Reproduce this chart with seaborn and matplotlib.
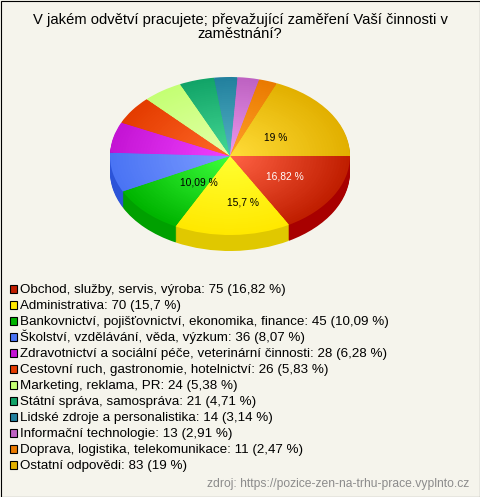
import numpy as np
import matplotlib
matplotlib.use("Agg")
import matplotlib.pyplot as plt
from matplotlib.patches import Rectangle
import seaborn as sns

W, H = 480, 497
BG = "#F5F4EC"

title = "V jakém odvětví pracujete; převažující zaměření Vaší činnosti v\nzaměstnání?"
source = "zdroj: https://pozice-zen-na-trhu-prace.vyplnto.cz"

categories = [
    "Obchod, služby, servis, výroba",
    "Administrativa",
    "Bankovnictví, pojišťovnictví, ekonomika, finance",
    "Školství, vzdělávání, věda, výzkum",
    "Zdravotnictví a sociální péče, veterinární činnosti",
    "Cestovní ruch, gastronomie, hotelnictví",
    "Marketing, reklama, PR",
    "Státní správa, samospráva",
    "Lidské zdroje a personalistika",
    "Informační technologie",
    "Doprava, logistika, telekomunikace",
    "Ostatní odpovědi",
]
counts = [75, 70, 45, 36, 28, 26, 24, 21, 14, 13, 11, 83]
percents = ["16,82", "15,7", "10,09", "8,07", "6,28", "5,83", "5,38", "4,71", "3,14", "2,91", "2,47", "19"]

# colours: rim of the top face, middle of the top face, side wall
rim = ["#C01E00", "#FFE800", "#00B400", "#4A74F4", "#C414D4", "#E43C00",
       "#C4FF74", "#12A468", "#22809E", "#BE62C2", "#EA7A00", "#E2B000"]
centre = ["#FF6244", "#FFFF30", "#3CFF3C", "#7C9CFF", "#F040FF", "#FF6828",
          "#E4FFA8", "#44D894", "#54B4C4", "#EC98EC", "#FFA028", "#FFDC38"]
side = ["#A80000", "#E0C800", "#00A000", "#2C54D8", "#A000B0", "#C03000",
        "#A0E050", "#008850", "#106880", "#A04CA0", "#C86000", "#C09000"]

# inside labels: slice index -> spot on the unit pie, and text colour
label_spot = {0: (0.46, -0.26), 1: (0.11, -0.59), 2: (-0.26, -0.33), 11: (0.38, 0.23)}
label_colour = {0: "white", 1: "black", 2: "black", 11: "black"}

sns.set_theme(style="white")
plt.rcParams["font.family"] = ["Liberation Sans", "DejaVu Sans"]

fig = plt.figure(figsize=(W / 100, H / 100), dpi=100, facecolor=BG)
ax = fig.add_axes([0, 0, 1, 1])

RX, RY = 120, 79
CX, CY = 230, 156
DEPTH = 16

# side wall, stacked copies of the pie
for off in np.arange(DEPTH, 0, -1):
    ax.pie(counts, colors=side, startangle=0, counterclock=False,
           center=(0, -off / RY), radius=1, frame=True,
           wedgeprops=dict(linewidth=0.3, edgecolor="none"))

# top face, radial gradient from layered pies
STEPS = 40
ramps = [sns.blend_palette([c, r], n_colors=STEPS) for c, r in zip(centre, rim)]
for i in range(STEPS - 1, -1, -1):
    ax.pie(counts, colors=[ramp[i] for ramp in ramps], startangle=0, counterclock=False,
           radius=(i + 1) / STEPS, frame=True, wedgeprops=dict(linewidth=0))

for i, (lx, ly) in label_spot.items():
    ax.text(lx, ly, percents[i] + " %", ha="center", va="center",
            fontsize=7.4, color=label_colour[i])

ax.set(xlim=(-CX / RX, (W - CX) / RX), ylim=(-(H - CY) / RY, CY / RY), aspect="auto")
ax.axis("off")

fig.text(240 / W, 1 - 27 / H, title, ha="center", va="center", fontsize=10.6,
         color="black", linespacing=1.03)

# legend rows, fixed 16 px apart
for row, (c, n, p, col) in enumerate(zip(categories, counts, percents, rim)):
    y = 289 + 16 * row
    fig.add_artist(Rectangle((9.5 / W, 1 - (y + 4) / H), 7.5 / W, 8 / H, transform=fig.transFigure,
                             facecolor=col, edgecolor="black", linewidth=0.8))
    fig.text(20 / W, 1 - (y + 4.5) / H, f"{c}: {n} ({p} %)", ha="left", va="baseline",
             fontsize=9.6, color="black")

fig.text(469.5 / W, 1 - 484 / H, source, ha="right", va="center", fontsize=8.75, color="#8C8C8C")

fig.add_artist(Rectangle((0.5 / W, 0.5 / H), (W - 1) / W, (H - 1) / H, transform=fig.transFigure,
                         facecolor="none", edgecolor="black", linewidth=0.8))

fig.savefig("out.png", dpi=100, facecolor=BG)
